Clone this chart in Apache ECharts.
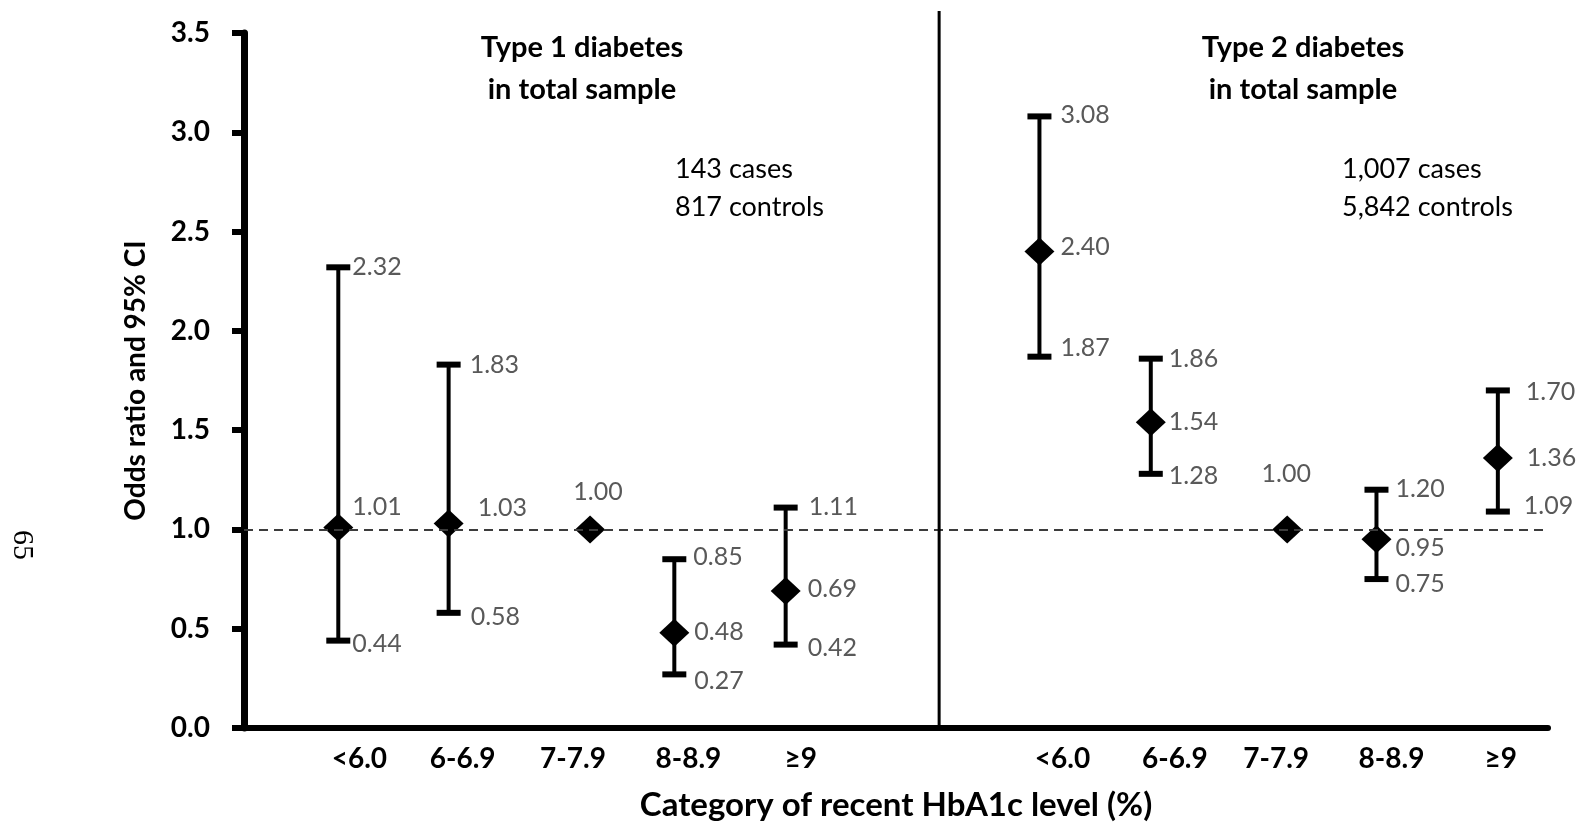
<!DOCTYPE html>
<html><head><meta charset="utf-8">
<script src="https://cdn.jsdelivr.net/npm/echarts@6/dist/echarts.min.js"></script>
<style>html,body{margin:0;padding:0;background:#fff}#c{width:1576px;height:827px}</style>
</head><body><div id="c"></div>
<script>
// ---------------- data ----------------
const categories = ['<6.0', '6-6.9', '7-7.9', '8-8.9', '≥9'];
const panelTitles = [['Type 1 diabetes', 'in total sample'], ['Type 2 diabetes', 'in total sample']];
const sampleSizes = [['143 cases', '817 controls'], ['1,007 cases', '5,842 controls']];
const t1OR   = [1.01, 1.03, 1.00, 0.48, 0.69];
const t1Low  = [0.44, 0.58, null, 0.27, 0.42];
const t1High = [2.32, 1.83, null, 0.85, 1.11];
const t2OR   = [2.40, 1.54, 1.00, 0.95, 1.36];
const t2Low  = [1.87, 1.28, null, 0.75, 1.09];
const t2High = [3.08, 1.86, null, 1.20, 1.70];
const yTickLabels = ['0.0', '0.5', '1.0', '1.5', '2.0', '2.5', '3.0', '3.5'];
const referenceOR = 1.0;
const yAxisTitle = 'Odds ratio and 95% CI';
const xAxisTitle = 'Category of recent HbA1c level (%)';
const pageNumber = '65';

// ---------------- layout (positions on the x scale, label offsets in px) ----------------
const markerX = [[9.4, 20.4, 34.5, 42.9, 54.0], [79.3, 90.4, 104.0, 112.9, 125.0]];
const catLabelX = [[11.5, 21.8, 32.8, 44.3, 55.5], [81.6, 92.8, 102.9, 114.4, 125.3]];
const separatorX = 69.3;
// OR label: [dx, dy, align]
const orLab = [
  [[14, -21, 'left'], [29, -16, 'left'], [8, -37, 'center'], [20, -1, 'left'], [22, -2, 'left']],
  [[21, -4, 'left'], [18, 0, 'left'], [-1, -55, 'center'], [19, 9, 'left'], [29, 0, 'left']]
];
const hiLab = [[[14, 0], [21, 0], null, [19, -2], [23, -1]], [[21, -1], [18, 0], null, [19, -1], [28, 2]]];
const loLab = [[[14, 3], [22, 4], null, [20, 7], [22, 3]], [[21, -9], [18, 2], null, [19, 5], [26, -6]]];

const FONT = 'Lato, "Open Sans", sans-serif';
const LABEL_GRAY = '#595959';

const ors = [t1OR, t2OR], lows = [t1Low, t2Low], highs = [t1High, t2High];
const pointData = [], barData = [];
for (let g = 0; g < 2; g++) {
  for (let i = 0; i < categories.length; i++) {
    pointData.push([markerX[g][i], ors[g][i]]);
    barData.push([markerX[g][i], ors[g][i], lows[g][i] == null ? NaN : lows[g][i], highs[g][i] == null ? NaN : highs[g][i], g, i]);
  }
}
const labelValues = [], labelNames = {};
for (let g = 0; g < 2; g++) categories.forEach((c, i) => { labelValues.push(catLabelX[g][i]); labelNames[catLabelX[g][i].toFixed(1)] = c; });

const chart = echarts.init(document.getElementById('c'), null, { renderer: 'canvas' });

function renderItem(params, api) {
  const x = api.value(0), or = api.value(1), lo = api.value(2), hi = api.value(3);
  const g = api.value(4), i = api.value(5);
  const children = [];
  const pOR = api.coord([x, or]);
  const txt = (t, px, py, align) => ({
    type: 'text', z2: 5,
    style: { text: t, x: px, y: py, align: align || 'left', verticalAlign: 'middle', fill: LABEL_GRAY, font: '25px ' + FONT }
  });
  if (!isNaN(lo) && !isNaN(hi)) {
    const pLo = api.coord([x, lo]), pHi = api.coord([x, hi]);
    children.push({ type: 'line', shape: { x1: pLo[0], y1: pLo[1], x2: pHi[0], y2: pHi[1] }, style: { stroke: '#000', lineWidth: 4 } });
    children.push({ type: 'rect', shape: { x: pHi[0] - 12, y: pHi[1] - 3, width: 24, height: 6 }, style: { fill: '#000' } });
    children.push({ type: 'rect', shape: { x: pLo[0] - 12, y: pLo[1] - 3, width: 24, height: 6 }, style: { fill: '#000' } });
    const h = hiLab[g][i], l = loLab[g][i];
    children.push(txt(hi.toFixed(2), pHi[0] + h[0], pHi[1] + h[1]));
    children.push(txt(lo.toFixed(2), pLo[0] + l[0], pLo[1] + l[1]));
  }
  const o = orLab[g][i];
  children.push(txt(or.toFixed(2), pOR[0] + o[0], pOR[1] + o[1], o[2]));
  return { type: 'group', children };
}

const option = {
  animation: false,
  backgroundColor: '#fff',
  grid: { left: 244, right: 28, top: 33, bottom: 98 },
  xAxis: {
    type: 'value', min: 0, max: 130,
    axisLine: { show: true, lineStyle: { color: '#000', width: 6 } },
    axisTick: { show: false },
    splitLine: { show: false },
    axisLabel: {
      customValues: labelValues,
      formatter: v => labelNames[Number(v).toFixed(1)] || '',
      color: '#000', fontWeight: 'bold', fontSize: 28, fontFamily: FONT, margin: 17
    },
    name: xAxisTitle, nameLocation: 'middle', nameGap: 61,
    nameTextStyle: { color: '#000', fontWeight: 'bold', fontSize: 33, fontFamily: FONT }
  },
  yAxis: {
    type: 'value', min: 0, max: 3.5, interval: 0.5,
    axisLine: { show: true, lineStyle: { color: '#000', width: 7 } },
    axisTick: { show: true, inside: false, length: 12, lineStyle: { color: '#000', width: 6 } },
    splitLine: { show: false },
    axisLabel: {
      formatter: v => yTickLabels[Math.round(v / 0.5)],
      color: '#000', fontWeight: 'bold', fontSize: 28, fontFamily: FONT, margin: 34
    },
    name: yAxisTitle, nameLocation: 'middle', nameGap: 94, nameRotate: 90,
    nameTextStyle: { color: '#000', fontWeight: 'bold', fontSize: 28, fontFamily: FONT }
  },
  series: [
    {
      type: 'custom', renderItem, data: barData, z: 3,
      encode: { x: 0, y: [1, 2, 3] }, clip: false
    },
    {
      type: 'scatter', data: pointData, symbol: 'diamond', symbolSize: [30, 28], z: 4,
      itemStyle: { color: '#000', opacity: 1 },
      markLine: {
        silent: true, symbol: 'none', animation: false,
        label: { show: false },
        lineStyle: { color: '#3c3c3c', width: 2, type: [9, 6] },
        data: [{ yAxis: referenceOR }]
      }
    }
  ]
};
chart.setOption(option);

// separator and text annotations
const sepBottom = chart.convertToPixel({ gridIndex: 0 }, [separatorX, 0]);
const titleCx = [582, 1303], sampleLeft = [675, 1342];
const graphics = [
  { type: 'line', shape: { x1: sepBottom[0], y1: 11, x2: sepBottom[0], y2: sepBottom[1] }, style: { stroke: '#000', lineWidth: 3 }, z: 10 },
  { type: 'text', x: 22, y: 545, rotation: -Math.PI / 2, style: { text: pageNumber, font: '30px "Liberation Serif", serif', fill: '#000', align: 'center', verticalAlign: 'middle' } }
];
for (let g = 0; g < 2; g++) {
  panelTitles[g].forEach((t, k) => graphics.push({ type: 'text', x: titleCx[g], y: 48 + 42 * k,
    style: { text: t, font: 'bold 29px ' + FONT, fill: '#000', align: 'center', verticalAlign: 'middle' } }));
  sampleSizes[g].forEach((t, k) => graphics.push({ type: 'text', x: sampleLeft[g], y: 169 + 38 * k,
    style: { text: t, font: '27px ' + FONT, fill: '#000', align: 'left', verticalAlign: 'middle' } }));
}
chart.setOption({ graphic: graphics });
</script></body></html>
